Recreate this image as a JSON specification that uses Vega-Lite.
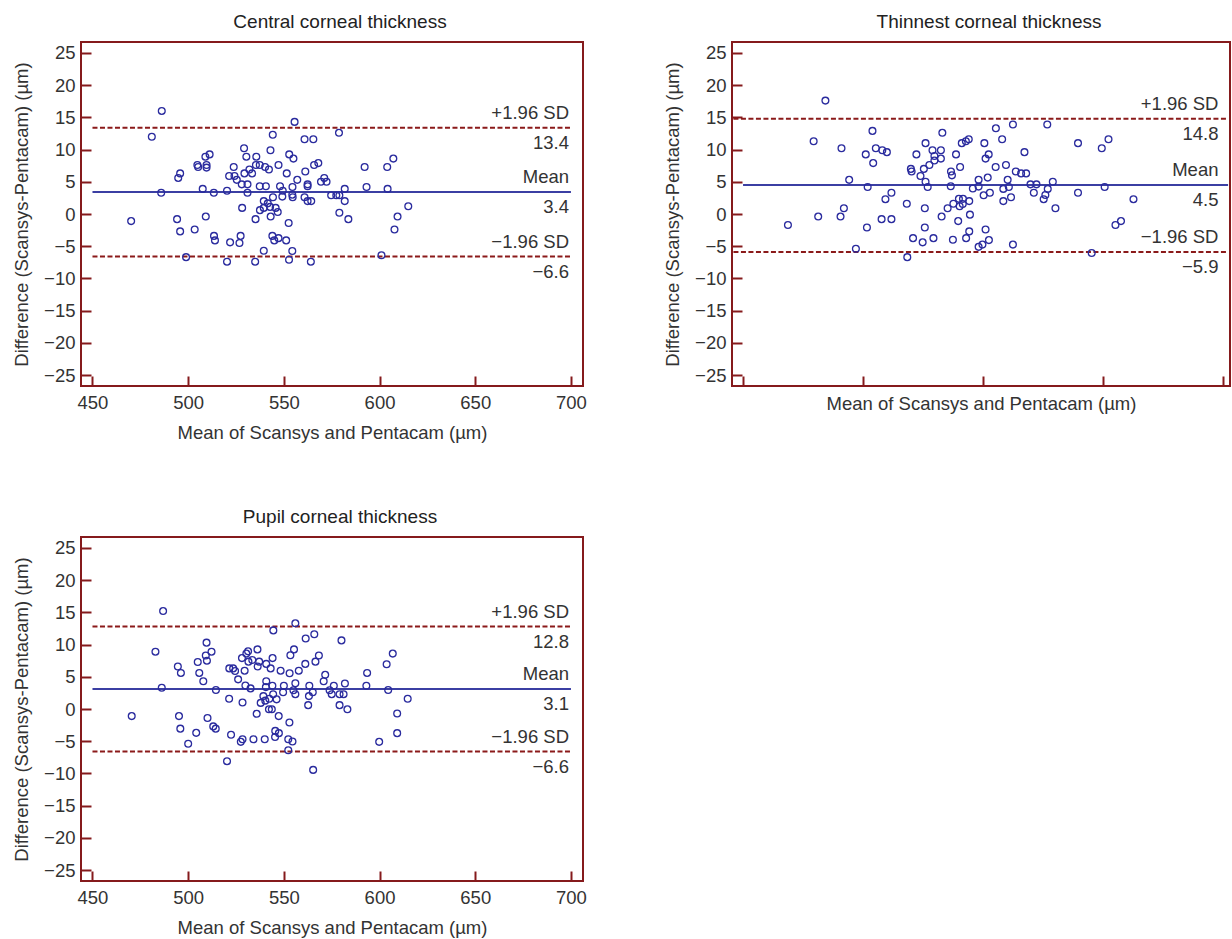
{
  "$schema": "https://vega.github.io/schema/vega-lite/v6.json",
  "padding": {"left": 11, "top": 12, "right": 0, "bottom": 0},
  "datasets": {
    "central": [
      {"m":486.2,"d":16.0},{"m":481.0,"d":12.0},{"m":555.6,"d":14.3},{"m":544.2,"d":12.3},{"m":578.8,"d":12.6},{"m":560.8,"d":11.6},{"m":565.4,"d":11.6},{"m":529.2,"d":10.2},{"m":543.0,"d":9.9},{"m":511.2,"d":9.25},{"m":509.0,"d":8.9},{"m":530.4,"d":8.9},{"m":535.6,"d":8.9},{"m":552.8,"d":9.25},{"m":555.0,"d":8.6},{"m":607.2,"d":8.6},{"m":504.8,"d":7.6},{"m":505.2,"d":7.3},{"m":509.6,"d":7.6},{"m":509.6,"d":7.2},{"m":523.8,"d":7.3},{"m":535.4,"d":7.6},{"m":537.4,"d":7.6},{"m":540.2,"d":7.3},{"m":542.2,"d":6.9},{"m":547.2,"d":7.6},{"m":568.0,"d":7.9},{"m":565.8,"d":7.6},{"m":592.2,"d":7.3},{"m":604.0,"d":7.3},{"m":495.8,"d":6.3},{"m":494.8,"d":5.6},{"m":521.4,"d":5.9},{"m":524.2,"d":5.9},{"m":529.4,"d":6.3},{"m":532.0,"d":6.9},{"m":533.4,"d":6.3},{"m":551.5,"d":6.3},{"m":561.2,"d":6.6},{"m":525.4,"d":5.3},{"m":528.0,"d":4.6},{"m":531.0,"d":4.6},{"m":537.4,"d":4.3},{"m":540.6,"d":4.3},{"m":548.0,"d":4.3},{"m":554.5,"d":4.2},{"m":557.0,"d":5.3},{"m":562.4,"d":4.6},{"m":562.4,"d":4.3},{"m":569.4,"d":5.0},{"m":571.1,"d":5.6},{"m":572.3,"d":5.0},{"m":507.6,"d":3.9},{"m":520.3,"d":3.6},{"m":513.4,"d":3.3},{"m":485.9,"d":3.3},{"m":531.0,"d":3.3},{"m":549.4,"d":3.6},{"m":581.8,"d":3.9},{"m":593.2,"d":4.2},{"m":604.2,"d":3.9},{"m":574.7,"d":2.9},{"m":577.4,"d":2.9},{"m":579.0,"d":2.9},{"m":544.3,"d":2.6},{"m":549.2,"d":2.7},{"m":554.6,"d":2.6},{"m":554.4,"d":3.0},{"m":560.8,"d":2.6},{"m":539.5,"d":2.0},{"m":541.6,"d":1.65},{"m":562.4,"d":2.0},{"m":564.3,"d":2.0},{"m":581.8,"d":2.0},{"m":615.0,"d":1.2},{"m":528.2,"d":0.95},{"m":539.5,"d":0.95},{"m":537.5,"d":0.6},{"m":542.8,"d":1.1},{"m":545.7,"d":0.95},{"m":546.8,"d":0.3},{"m":579.0,"d":0.2},{"m":470.2,"d":-1.1},{"m":494.2,"d":-0.8},{"m":509.2,"d":-0.4},{"m":535.2,"d":-0.8},{"m":543.1,"d":-0.4},{"m":583.7,"d":-0.8},{"m":609.4,"d":-0.4},{"m":552.5,"d":-1.4},{"m":495.8,"d":-2.7},{"m":503.4,"d":-2.4},{"m":607.8,"d":-2.4},{"m":513.5,"d":-3.4},{"m":514.0,"d":-4.1},{"m":527.4,"d":-3.4},{"m":521.9,"d":-4.4},{"m":526.8,"d":-4.5},{"m":544.0,"d":-3.4},{"m":547.2,"d":-3.75},{"m":545.0,"d":-4.1},{"m":551.2,"d":-4.1},{"m":539.5,"d":-5.7},{"m":554.4,"d":-5.75},{"m":498.9,"d":-6.7},{"m":601.0,"d":-6.4},{"m":520.3,"d":-7.4},{"m":535.0,"d":-7.4},{"m":552.7,"d":-7.1},{"m":564.1,"d":-7.4}
    ],
    "thinnest": [
      {"m":484.3,"d":17.6},{"m":479.4,"d":11.3},{"m":491.0,"d":10.2},{"m":503.9,"d":12.9},{"m":501.1,"d":9.25},{"m":505.3,"d":10.2},{"m":508.0,"d":9.9},{"m":509.9,"d":9.6},{"m":504.2,"d":7.9},{"m":494.2,"d":5.3},{"m":501.9,"d":4.2},{"m":511.8,"d":3.3},{"m":509.3,"d":2.3},{"m":492.0,"d":0.9},{"m":481.3,"d":-0.4},{"m":490.6,"d":-0.4},{"m":507.7,"d":-0.8},{"m":511.8,"d":-0.8},{"m":468.7,"d":-1.7},{"m":501.6,"d":-2.1},{"m":497.0,"d":-5.4},{"m":518.4,"d":-6.7},{"m":518.2,"d":1.6},{"m":519.9,"d":7.0},{"m":520.2,"d":6.6},{"m":522.2,"d":9.25},{"m":523.9,"d":5.9},{"m":525.3,"d":7.0},{"m":526.0,"d":11.0},{"m":526.0,"d":5.0},{"m":526.9,"d":4.2},{"m":527.6,"d":7.6},{"m":528.9,"d":9.9},{"m":529.7,"d":9.0},{"m":529.7,"d":8.3},{"m":532.4,"d":9.9},{"m":532.4,"d":8.6},{"m":533.0,"d":12.6},{"m":525.7,"d":0.9},{"m":525.7,"d":-2.1},{"m":520.8,"d":-3.75},{"m":524.8,"d":-4.4},{"m":529.3,"d":-3.75},{"m":532.7,"d":-0.4},{"m":535.2,"d":0.9},{"m":536.6,"d":6.6},{"m":537.0,"d":6.0},{"m":536.5,"d":4.3},{"m":538.7,"d":9.25},{"m":540.4,"d":7.3},{"m":541.1,"d":11.0},{"m":542.8,"d":11.3},{"m":544.0,"d":11.6},{"m":537.6,"d":1.6},{"m":539.9,"d":2.35},{"m":541.6,"d":2.35},{"m":540.2,"d":1.2},{"m":541.5,"d":1.55},{"m":544.2,"d":2.0},{"m":544.5,"d":-0.1},{"m":539.6,"d":-1.1},{"m":537.4,"d":-4.0},{"m":542.9,"d":-3.75},{"m":544.2,"d":-2.7},{"m":545.7,"d":3.95},{"m":548.1,"d":4.25},{"m":548.1,"d":5.3},{"m":550.2,"d":2.9},{"m":550.5,"d":11.0},{"m":551.0,"d":8.6},{"m":552.3,"d":9.25},{"m":551.9,"d":5.65},{"m":552.8,"d":3.3},{"m":551.0,"d":-2.4},{"m":552.4,"d":-4.05},{"m":549.7,"d":-4.75},{"m":548.1,"d":-5.1},{"m":555.3,"d":13.3},{"m":557.9,"d":11.6},{"m":555.2,"d":7.3},{"m":559.5,"d":7.6},{"m":560.2,"d":5.3},{"m":558.4,"d":3.9},{"m":560.7,"d":4.2},{"m":558.4,"d":2.0},{"m":561.6,"d":2.6},{"m":562.4,"d":13.9},{"m":563.6,"d":6.6},{"m":565.8,"d":6.3},{"m":567.9,"d":6.3},{"m":567.2,"d":9.6},{"m":562.4,"d":-4.75},{"m":569.7,"d":4.6},{"m":572.2,"d":4.6},{"m":571.1,"d":3.3},{"m":576.7,"d":13.9},{"m":576.9,"d":3.9},{"m":575.9,"d":2.95},{"m":575.2,"d":2.3},{"m":579.0,"d":5.0},{"m":580.1,"d":0.9},{"m":589.5,"d":11.0},{"m":589.5,"d":3.3},{"m":599.4,"d":10.2},{"m":602.2,"d":11.6},{"m":600.6,"d":4.2},{"m":595.2,"d":-6.05},{"m":605.1,"d":-1.7},{"m":607.4,"d":-1.1},{"m":612.6,"d":2.3}
    ],
    "pupil": [
      {"m":486.9,"d":15.2},{"m":482.9,"d":8.9},{"m":486.2,"d":3.3},{"m":470.5,"d":-1.1},{"m":494.6,"d":6.6},{"m":496.2,"d":5.6},{"m":495.2,"d":-1.1},{"m":495.9,"d":-3.05},{"m":504.2,"d":-3.7},{"m":500.0,"d":-5.4},{"m":505.0,"d":7.3},{"m":505.8,"d":5.6},{"m":507.9,"d":4.3},{"m":509.6,"d":10.3},{"m":509.2,"d":8.3},{"m":509.8,"d":7.5},{"m":512.2,"d":8.9},{"m":514.5,"d":2.95},{"m":510.1,"d":-1.4},{"m":513.1,"d":-2.7},{"m":514.4,"d":-3.05},{"m":521.5,"d":6.3},{"m":523.5,"d":6.3},{"m":524.5,"d":5.9},{"m":526.1,"d":4.6},{"m":521.4,"d":1.6},{"m":528.4,"d":1.0},{"m":522.4,"d":-4.0},{"m":527.5,"d":-5.1},{"m":528.4,"d":-4.7},{"m":520.3,"d":-8.1},{"m":528.1,"d":7.9},{"m":529.5,"d":5.95},{"m":529.9,"d":3.65},{"m":530.4,"d":8.6},{"m":531.3,"d":8.95},{"m":531.5,"d":7.35},{"m":533.5,"d":7.6},{"m":532.6,"d":3.2},{"m":534.1,"d":-4.7},{"m":535.8,"d":-0.75},{"m":536.2,"d":9.25},{"m":536.3,"d":6.6},{"m":537.1,"d":7.35},{"m":540.8,"d":7.0},{"m":537.9,"d":0.95},{"m":539.3,"d":2.0},{"m":540.3,"d":1.3},{"m":540.0,"d":-4.7},{"m":540.8,"d":4.3},{"m":540.6,"d":3.4},{"m":542.4,"d":1.6},{"m":542.2,"d":-0.05},{"m":543.7,"d":-0.05},{"m":543.1,"d":6.3},{"m":544.1,"d":7.9},{"m":544.5,"d":12.2},{"m":544.0,"d":3.6},{"m":544.4,"d":2.3},{"m":546.2,"d":1.5},{"m":545.5,"d":-3.4},{"m":545.4,"d":-4.35},{"m":547.4,"d":-3.75},{"m":547.3,"d":-1.1},{"m":548.3,"d":5.95},{"m":549.6,"d":2.6},{"m":550.0,"d":3.6},{"m":553.0,"d":5.55},{"m":553.4,"d":8.35},{"m":552.9,"d":-2.1},{"m":552.3,"d":-4.7},{"m":554.5,"d":-5.05},{"m":552.3,"d":-6.4},{"m":555.0,"d":2.9},{"m":555.3,"d":9.25},{"m":556.0,"d":13.3},{"m":556.0,"d":4.0},{"m":556.0,"d":2.3},{"m":557.8,"d":5.95},{"m":561.2,"d":7.0},{"m":561.4,"d":10.95},{"m":563.3,"d":3.6},{"m":563.1,"d":2.0},{"m":562.7,"d":0.6},{"m":565.1,"d":2.6},{"m":565.9,"d":11.6},{"m":566.5,"d":7.35},{"m":568.3,"d":8.3},{"m":565.3,"d":-9.45},{"m":570.8,"d":4.3},{"m":571.6,"d":5.3},{"m":573.9,"d":2.9},{"m":575.0,"d":2.3},{"m":576.1,"d":3.6},{"m":579.1,"d":2.3},{"m":581.2,"d":2.3},{"m":581.9,"d":3.95},{"m":579.1,"d":0.6},{"m":583.2,"d":-0.05},{"m":580.1,"d":10.65},{"m":593.5,"d":5.6},{"m":593.1,"d":3.6},{"m":599.8,"d":-5.1},{"m":603.7,"d":6.95},{"m":606.9,"d":8.6},{"m":604.5,"d":2.95},{"m":609.2,"d":-0.7},{"m":609.2,"d":-3.75},{"m":614.7,"d":1.6}
    ],
    "lines": [
      {"panel":"central","kind":"upper","name":"+1.96 SD","d":13.4},
      {"panel":"central","kind":"mean","name":"Mean","d":3.4},
      {"panel":"central","kind":"lower","name":"−1.96 SD","d":-6.6},
      {"panel":"thinnest","kind":"upper","name":"+1.96 SD","d":14.8},
      {"panel":"thinnest","kind":"mean","name":"Mean","d":4.5},
      {"panel":"thinnest","kind":"lower","name":"−1.96 SD","d":-5.9},
      {"panel":"pupil","kind":"upper","name":"+1.96 SD","d":12.8},
      {"panel":"pupil","kind":"mean","name":"Mean","d":3.1},
      {"panel":"pupil","kind":"lower","name":"−1.96 SD","d":-6.6}
    ]
  },
  "vconcat": [
    {
      "hconcat": [
        {
          "title": "Central corneal thickness",
          "width": 502, "height": 344,
          "layer": [
            {"data": {"name": "lines"}, "transform": [{"filter": "datum.panel == 'central' && datum.kind == 'mean'"}],
             "mark": {"type": "rule", "color": "#3b3fa3", "strokeWidth": 2},
             "encoding": {"x": {"datum": 450, "type": "quantitative", "title": "Mean of Scansys and Pentacam (µm)"}, "x2": {"datum": 700}, "y": {"field": "d", "type": "quantitative", "title": "Difference (Scansys-Pentacam) (µm)"}}},
            {"data": {"name": "lines"}, "transform": [{"filter": "datum.panel == 'central' && datum.kind != 'mean'"}],
             "mark": {"type": "rule", "color": "#8b1a1a", "strokeWidth": 2, "strokeDash": [5, 2.5]},
             "encoding": {"x": {"datum": 450, "type": "quantitative", "title": "Mean of Scansys and Pentacam (µm)"}, "x2": {"datum": 700}, "y": {"field": "d", "type": "quantitative", "title": "Difference (Scansys-Pentacam) (µm)"}}},
            {"data": {"name": "central"},
             "mark": {"type": "point", "shape": "circle", "filled": false, "size": 46, "strokeWidth": 1.3, "color": "#2a2b9e", "opacity": 1},
             "encoding": {
               "x": {"field": "m", "type": "quantitative", "title": "Mean of Scansys and Pentacam (µm)", "scale": {"domain": [444, 706.3], "nice": false, "zero": false}, "axis": {"values": [450, 500, 550, 600, 650, 700], "tickCount": 12, "format": "d"}},
               "y": {"field": "d", "type": "quantitative", "title": "Difference (Scansys-Pentacam) (µm)", "scale": {"domain": [-26.7, 26.7], "nice": false}, "axis": {"values": [-25, -20, -15, -10, -5, 0, 5, 10, 15, 20, 25], "tickCount": 12, "labelOverlap": false, "format": "d"}}
             }},
            {"data": {"name": "lines"}, "transform": [{"filter": "datum.panel == 'central'"}],
             "mark": {"type": "text", "align": "right", "baseline": "bottom", "dy": -5, "fontSize": 18.5, "color": "#333333"},
             "encoding": {"x": {"datum": 699, "type": "quantitative", "title": "Mean of Scansys and Pentacam (µm)"}, "y": {"field": "d", "type": "quantitative", "title": "Difference (Scansys-Pentacam) (µm)"}, "text": {"field": "name"}}},
            {"data": {"name": "lines"}, "transform": [{"filter": "datum.panel == 'central'"}],
             "mark": {"type": "text", "align": "right", "baseline": "top", "dy": 6, "fontSize": 18.5, "color": "#333333"},
             "encoding": {"x": {"datum": 699, "type": "quantitative", "title": "Mean of Scansys and Pentacam (µm)"}, "y": {"field": "d", "type": "quantitative", "title": "Difference (Scansys-Pentacam) (µm)"}, "text": {"field": "d", "format": ".1f"}}}
          ]
        },
        {
          "title": "Thinnest corneal thickness",
          "width": 498, "height": 344,
          "layer": [
            {"data": {"name": "lines"}, "transform": [{"filter": "datum.panel == 'thinnest' && datum.kind == 'mean'"}],
             "mark": {"type": "rule", "color": "#3b3fa3", "strokeWidth": 2},
             "encoding": {"x": {"datum": 450, "type": "quantitative", "title": "Mean of Scansys and Pentacam (µm)"}, "x2": {"datum": 652}, "y": {"field": "d", "type": "quantitative", "title": "Difference (Scansys-Pentacam) (µm)"}}},
            {"data": {"name": "lines"}, "transform": [{"filter": "datum.panel == 'thinnest' && datum.kind != 'mean'"}],
             "mark": {"type": "rule", "color": "#8b1a1a", "strokeWidth": 2, "strokeDash": [5, 2.5]},
             "encoding": {"x": {"datum": 446, "type": "quantitative", "title": "Mean of Scansys and Pentacam (µm)"}, "x2": {"datum": 652}, "y": {"field": "d", "type": "quantitative", "title": "Difference (Scansys-Pentacam) (µm)"}}},
            {"data": {"name": "thinnest"},
             "mark": {"type": "point", "shape": "circle", "filled": false, "size": 46, "strokeWidth": 1.3, "color": "#2a2b9e", "opacity": 1},
             "encoding": {
               "x": {"field": "m", "type": "quantitative", "title": "Mean of Scansys and Pentacam (µm)", "scale": {"domain": [445.4, 652.8], "nice": false, "zero": false}, "axis": {"values": [450, 500, 550, 600, 650], "tickCount": 12, "labels": false, "titlePadding": 7}},
               "y": {"field": "d", "type": "quantitative", "title": "Difference (Scansys-Pentacam) (µm)", "scale": {"domain": [-26.7, 26.7], "nice": false}, "axis": {"values": [-25, -20, -15, -10, -5, 0, 5, 10, 15, 20, 25], "tickCount": 12, "labelOverlap": false, "format": "d"}}
             }},
            {"data": {"name": "lines"}, "transform": [{"filter": "datum.panel == 'thinnest'"}],
             "mark": {"type": "text", "align": "right", "baseline": "bottom", "dy": -5, "fontSize": 18.5, "color": "#333333"},
             "encoding": {"x": {"datum": 648, "type": "quantitative", "title": "Mean of Scansys and Pentacam (µm)"}, "y": {"field": "d", "type": "quantitative", "title": "Difference (Scansys-Pentacam) (µm)"}, "text": {"field": "name"}}},
            {"data": {"name": "lines"}, "transform": [{"filter": "datum.panel == 'thinnest'"}],
             "mark": {"type": "text", "align": "right", "baseline": "top", "dy": 6, "fontSize": 18.5, "color": "#333333"},
             "encoding": {"x": {"datum": 648, "type": "quantitative", "title": "Mean of Scansys and Pentacam (µm)"}, "y": {"field": "d", "type": "quantitative", "title": "Difference (Scansys-Pentacam) (µm)"}, "text": {"field": "d", "format": ".1f"}}}
          ]
        }
      ],
      "spacing": 74
    },
    {
      "title": "Pupil corneal thickness",
      "width": 502, "height": 344,
      "layer": [
        {"data": {"name": "lines"}, "transform": [{"filter": "datum.panel == 'pupil' && datum.kind == 'mean'"}],
         "mark": {"type": "rule", "color": "#3b3fa3", "strokeWidth": 2},
         "encoding": {"x": {"datum": 450, "type": "quantitative", "title": "Mean of Scansys and Pentacam (µm)"}, "x2": {"datum": 700}, "y": {"field": "d", "type": "quantitative", "title": "Difference (Scansys-Pentacam) (µm)"}}},
        {"data": {"name": "lines"}, "transform": [{"filter": "datum.panel == 'pupil' && datum.kind != 'mean'"}],
         "mark": {"type": "rule", "color": "#8b1a1a", "strokeWidth": 2, "strokeDash": [5, 2.5]},
         "encoding": {"x": {"datum": 450, "type": "quantitative", "title": "Mean of Scansys and Pentacam (µm)"}, "x2": {"datum": 700}, "y": {"field": "d", "type": "quantitative", "title": "Difference (Scansys-Pentacam) (µm)"}}},
        {"data": {"name": "pupil"},
         "mark": {"type": "point", "shape": "circle", "filled": false, "size": 46, "strokeWidth": 1.3, "color": "#2a2b9e", "opacity": 1},
         "encoding": {
           "x": {"field": "m", "type": "quantitative", "title": "Mean of Scansys and Pentacam (µm)", "scale": {"domain": [444, 706.3], "nice": false, "zero": false}, "axis": {"values": [450, 500, 550, 600, 650, 700], "tickCount": 12, "format": "d"}},
           "y": {"field": "d", "type": "quantitative", "title": "Difference (Scansys-Pentacam) (µm)", "scale": {"domain": [-26.7, 26.7], "nice": false}, "axis": {"values": [-25, -20, -15, -10, -5, 0, 5, 10, 15, 20, 25], "tickCount": 12, "labelOverlap": false, "format": "d"}}
         }},
        {"data": {"name": "lines"}, "transform": [{"filter": "datum.panel == 'pupil'"}],
         "mark": {"type": "text", "align": "right", "baseline": "bottom", "dy": -5, "fontSize": 18.5, "color": "#333333"},
         "encoding": {"x": {"datum": 699, "type": "quantitative", "title": "Mean of Scansys and Pentacam (µm)"}, "y": {"field": "d", "type": "quantitative", "title": "Difference (Scansys-Pentacam) (µm)"}, "text": {"field": "name"}}},
        {"data": {"name": "lines"}, "transform": [{"filter": "datum.panel == 'pupil'"}],
         "mark": {"type": "text", "align": "right", "baseline": "top", "dy": 6, "fontSize": 18.5, "color": "#333333"},
         "encoding": {"x": {"datum": 699, "type": "quantitative", "title": "Mean of Scansys and Pentacam (µm)"}, "y": {"field": "d", "type": "quantitative", "title": "Difference (Scansys-Pentacam) (µm)"}, "text": {"field": "d", "format": ".1f"}}}
      ]
    }
  ],
  "spacing": 64,
  "config": {
    "font": "Liberation Sans",
    "view": {"stroke": "#851a1c", "strokeWidth": 2},
    "axis": {"domain": false, "grid": false, "tickColor": "#851a1c", "tickWidth": 2, "tickSize": -10, "labelFontSize": 18.5, "labelColor": "#333333", "labelOverlap": false, "titleFontSize": 18.5, "titleFontWeight": "normal", "titleColor": "#333333", "labelFont": "Liberation Sans", "titleFont": "Liberation Sans"},
    "axisX": {"labelPadding": 17, "titlePadding": 12},
    "axisY": {"labelPadding": 16, "titlePadding": 12.5},
    "title": {"fontSize": 19, "fontWeight": "normal", "font": "Liberation Sans", "color": "#222222", "offset": 10, "dx": 8}
  }
}
